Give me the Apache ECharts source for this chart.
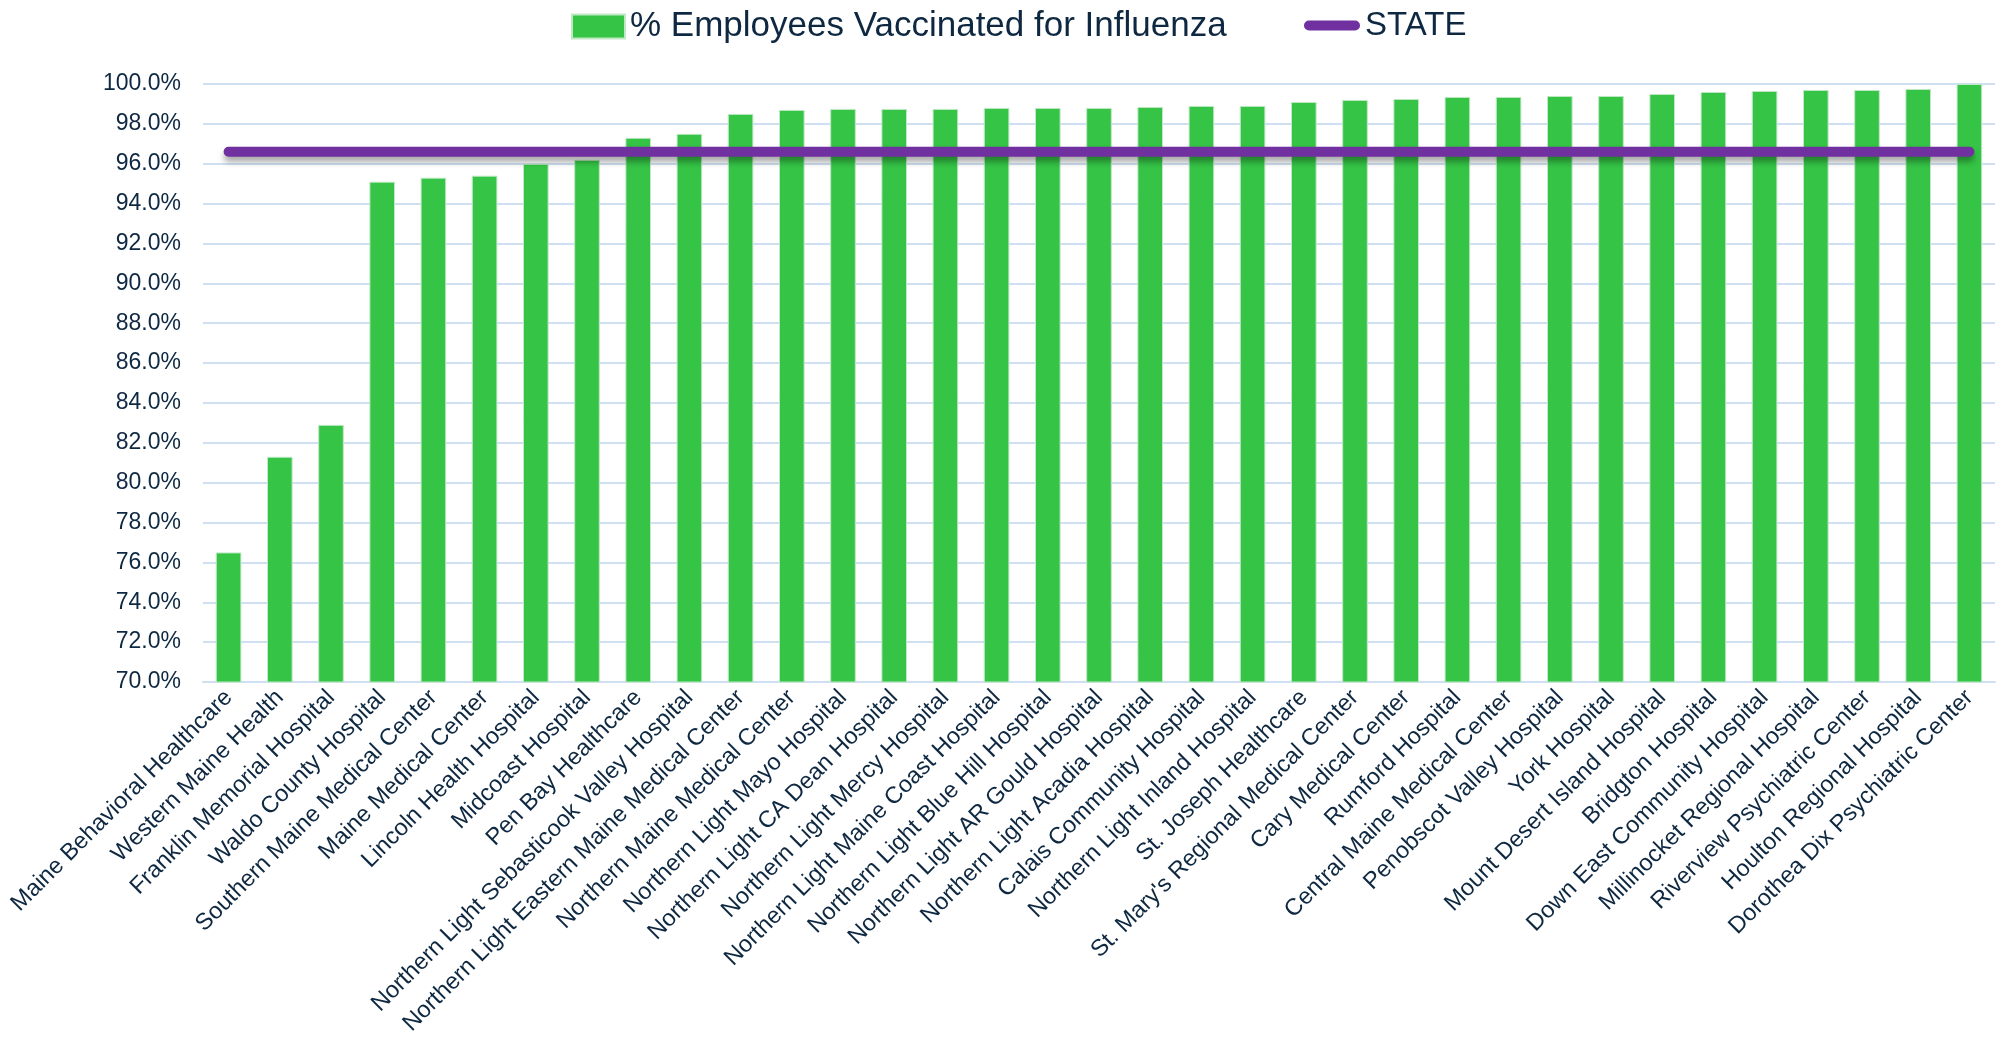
<!DOCTYPE html>
<html>
<head>
<meta charset="utf-8">
<script src="https://cdn.jsdelivr.net/npm/echarts@6/dist/echarts.min.js"></script>
<style>
  html, body { margin: 0; padding: 0; background: #fff; }
  #chart { width: 1999px; height: 1043px; }
</style>
</head>
<body>
<div id="chart"></div>
<script>
var hospitals = [
  "Maine Behavioral Healthcare",
  "Western Maine Health",
  "Franklin Memorial Hospital",
  "Waldo County Hospital",
  "Southern Maine Medical Center",
  "Maine Medical Center",
  "Lincoln Health Hospital",
  "Midcoast Hospital",
  "Pen Bay Healthcare",
  "Northern Light Sebasticook Valley Hospital",
  "Northern Light Eastern Maine Medical Center",
  "Northern Maine Medical Center",
  "Northern Light Mayo Hospital",
  "Northern Light CA Dean Hospital",
  "Northern Light Mercy Hospital",
  "Northern Light Maine Coast Hospital",
  "Northern Light Blue Hill Hospital",
  "Northern Light AR Gould Hospital",
  "Northern Light Acadia Hospital",
  "Calais Community Hospital",
  "Northern Light Inland Hospital",
  "St. Joseph Healthcare",
  "St. Mary's Regional Medical Center",
  "Cary Medical Center",
  "Rumford Hospital",
  "Central Maine Medical Center",
  "Penobscot Valley Hospital",
  "York Hospital",
  "Mount Desert Island Hospital",
  "Bridgton Hospital",
  "Down East Community Hospital",
  "Millinocket Regional Hospital",
  "Riverview Psychiatric Center",
  "Houlton Regional Hospital",
  "Dorothea Dix Psychiatric Center"
];

// % employees vaccinated
var vaccinated = [
  76.5, 81.3, 82.9, 95.1, 95.3, 95.4, 96.0, 96.2, 97.3, 97.5,
  98.5, 98.7, 98.75, 98.75, 98.75, 98.8, 98.8, 98.8, 98.85, 98.9,
  98.9, 99.1, 99.2, 99.25, 99.35, 99.35, 99.4, 99.4, 99.5, 99.6,
  99.65, 99.7, 99.7, 99.75, 100.0
];

// statewide figure, same for every hospital
var stateValue = [
  96.6, 96.6, 96.6, 96.6, 96.6, 96.6, 96.6, 96.6, 96.6, 96.6,
  96.6, 96.6, 96.6, 96.6, 96.6, 96.6, 96.6, 96.6, 96.6, 96.6,
  96.6, 96.6, 96.6, 96.6, 96.6, 96.6, 96.6, 96.6, 96.6, 96.6,
  96.6, 96.6, 96.6, 96.6, 96.6
];

var barName = "% Employees Vaccinated for Influenza";
var lineName = "STATE";
var textColor = "#0e2841";
var gridColor = "#cfe0f3";

var chart = echarts.init(document.getElementById("chart"));

var option = {
  animation: false,
  legend: [
    {
      data: [barName],
      left: 566,
      top: 4,
      itemWidth: 53,
      itemHeight: 24,
      icon: "rect",
      textStyle: {
        color: textColor,
        fontFamily: "Liberation Sans",
        fontSize: 35,
      },
    },
    {
      data: [lineName],
      left: 1299,
      top: 4,
      itemWidth: 56,
      itemHeight: 10,
      icon: "path://M5,0 L51,0 A5,5 0 0 1 51,10 L5,10 A5,5 0 0 1 5,0 Z",
      textStyle: {
        color: textColor,
        fontFamily: "Liberation Sans",
        fontSize: 33,
      },
    },
  ],
  grid: {
    left: 203,
    right: 4,
    top: 84,
    bottom: 361,
  },
  xAxis: {
    type: "category",
    data: hospitals,
    axisLine: { lineStyle: { color: gridColor, width: 2 } },
    axisTick: { show: false },
    axisLabel: {
      interval: 0,
      rotate: 45,
      margin: 12,
      color: textColor,
      fontFamily: "Liberation Sans",
      fontSize: 23.5,
    },
  },
  yAxis: {
    type: "value",
    min: 70,
    max: 100,
    interval: 2,
    axisLine: { show: false },
    axisTick: { show: false },
    splitLine: { lineStyle: { color: gridColor, width: 2 } },
    axisLabel: {
      margin: 22,
      color: textColor,
      fontFamily: "Liberation Sans",
      fontSize: 23,
      formatter: function (v) {
        return v.toFixed(1) + "%";
      },
    },
  },
  series: [
    {
      name: barName,
      type: "bar",
      data: vaccinated,
      barWidth: "50%",
      itemStyle: {
        color: "#35c446",
        borderColor: "#bfe8c4",
        borderWidth: 1,
      },
    },
    {
      name: lineName,
      type: "line",
      data: stateValue,
      symbol: "none",
      z: 5,
      lineStyle: {
        color: "#7030a0",
        width: 10,
        cap: "round",
        shadowColor: "rgba(0,0,0,0.35)",
        shadowBlur: 6,
        shadowOffsetY: 5,
      },
      itemStyle: { color: "#7030a0" },
    },
  ],
};

chart.setOption(option);
</script>
</body>
</html>
